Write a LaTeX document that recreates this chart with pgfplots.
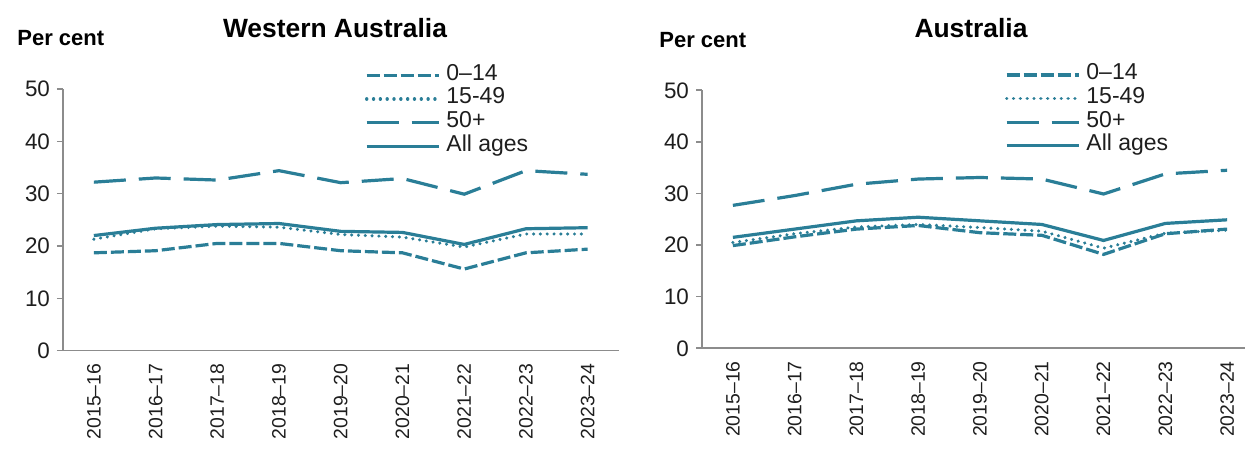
\documentclass[border=0pt]{standalone}
\usepackage{pgfplots}
\pgfplotsset{compat=1.18}
\usepackage{fontspec}
\setmainfont{Liberation Sans}
\definecolor{teal1}{RGB}{42,126,151}
\definecolor{axgray}{RGB}{140,140,140}
\definecolor{txt}{RGB}{30,30,30}
\pgfplotsset{
  mystyle/.style={
    scale only axis,
    xmin=-0.5, xmax=8.5, ymin=0, ymax=50,
    ytick={0,10,...,50},
    xtick={0,...,8},
    xticklabels={2015--16,2016--17,2017--18,2018--19,2019--20,2020--21,2021--22,2022--23,2023--24},
    x tick label style={rotate=90, anchor=east, font=\fontsize{9.7}{11}\selectfont, text=txt},
    y tick label style={font=\fontsize{11.2}{13}\selectfont, text=txt},
    /pgf/number format/assume math mode=true,
    axis x line*=bottom, axis y line*=left,
    axis line style={axgray, line width=0.8pt, -},
    x axis line style={-},
    major x tick style={draw=none},
    major y tick style={axgray, line width=0.8pt},
    ytick style={axgray},
    tick align=outside, major tick length=3pt,
    every axis plot/.append style={teal1, line width=1.6pt},
    legend cell align=left,
    legend image code/.code={\draw[##1] (0pt,0pt) -- (36pt,0pt);},
    legend style={draw=none, fill=none, inner sep=0pt, outer sep=0pt, row sep=0pt,
      column sep=3pt,
      nodes={inner sep=0pt, text height=8.3pt, text depth=3.5pt, font=\fontsize{11.5}{13}\selectfont, text=txt},
      at={(rel axis cs:0.5437,1.097)}, anchor=north west},
  },
  s014/.style={dash pattern=on 6.5pt off 2pt},
  s1549/.style={line width=1.7pt, dash pattern=on 0.01pt off 3.4pt, line cap=round},
  s50/.style={dash pattern=on 16pt off 6.5pt},
  sall/.style={},
}
\begin{document}
\begin{tikzpicture}[x=1pt,y=1pt]
\useasboundingbox (0,0) rectangle (622.5,226.5);
\begin{axis}[mystyle, at={(31.5pt,51.15pt)}, anchor=south west, width=277.75pt, height=130.85pt]
\addplot[s014] coordinates {(0,18.7)(1,19.1)(2,20.5)(3,20.5)(4,19.1)(5,18.7)(6,15.6)(7,18.7)(8,19.4)};
\addlegendentry{0–14}
\addplot[s1549] coordinates {(0,21.3)(1,23.3)(2,23.8)(3,23.6)(4,22.2)(5,21.7)(6,19.8)(7,22.3)(8,22.3)};
\addlegendentry{15-49}
\addplot[s50] coordinates {(0,32.2)(1,33.0)(2,32.6)(3,34.4)(4,32.1)(5,32.9)(6,29.9)(7,34.4)(8,33.7)};
\addlegendentry{50+}
\addplot[sall] coordinates {(0,22.0)(1,23.4)(2,24.1)(3,24.3)(4,22.8)(5,22.6)(6,20.3)(7,23.3)(8,23.5)};
\addlegendentry{All ages}
\end{axis}
\begin{axis}[mystyle, at={(351pt,52.35pt)}, anchor=south west, width=278pt, height=129pt,
  legend style={at={(rel axis cs:0.545,1.105)}}]
\addplot[s014] coordinates {(0,19.9)(1,21.6)(2,23.1)(3,23.8)(4,22.4)(5,21.9)(6,18.2)(7,22.2)(8,23.1)};
\addlegendentry{0–14}
\addplot[s1549] coordinates {(0,20.5)(1,22.2)(2,23.5)(3,24.0)(4,23.4)(5,22.7)(6,19.4)(7,22.3)(8,22.9)};
\addlegendentry{15-49}
\addplot[s50] coordinates {(0,27.7)(1,29.6)(2,31.8)(3,32.8)(4,33.1)(5,32.8)(6,29.9)(7,33.8)(8,34.5)};
\addlegendentry{50+}
\addplot[sall] coordinates {(0,21.5)(1,23.1)(2,24.7)(3,25.4)(4,24.7)(5,24.0)(6,20.9)(7,24.2)(8,24.9)};
\addlegendentry{All ages}
\end{axis}
\node[anchor=center, font=\bfseries\fontsize{13.2}{15}\selectfont] at (167.5,212.5) {Western Australia};
\node[anchor=west, font=\bfseries\fontsize{11}{13}\selectfont, inner sep=0pt] at (8.5,207.5) {Per cent};
\node[anchor=center, font=\bfseries\fontsize{13.2}{15}\selectfont] at (485.5,212.5) {Australia};
\node[anchor=west, font=\bfseries\fontsize{11}{13}\selectfont, inner sep=0pt] at (329.5,206.5) {Per cent};
\end{tikzpicture}
\end{document}
